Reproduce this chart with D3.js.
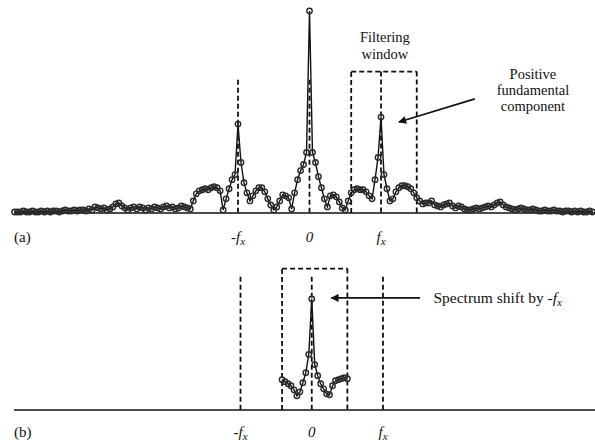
<!DOCTYPE html>
<html>
<head>
<meta charset="utf-8">
<script src="https://cdn.jsdelivr.net/npm/d3@7"></script>
<style>
  html, body { margin: 0; padding: 0; background: #fff; }
  svg { display: block; }
</style>
</head>
<body>
<svg id="chart" width="595" height="443"></svg>
<script>
// Frequency bins: the fundamental sits 24 bins from DC.
const FX = 24;

// (a) magnitude spectrum, one value per bin starting at bin -99
const startA = -99;
const spectrumA = [
  1,1,1,2,1,1,2,1,1,2,1,2,1,2,2,1,2,3,2,2,3,2,3,3,2,4,3,
  6,5,4,5,3,4,6,9,10,7,5,3,5,6,4,6,5,3,5,4,6,5,4,6,7,5,6,4,5,7,6,5,4,
  12,19,22,23,24,23,25,26,25,22,3,14,24,33,38,
  88,
  50,30,20,12,17,22,25,25,21,14,8,3,6,12,18,17,15,4,20,33,42,48,60,
  200,
  60,50,36,25,14,6,17,18,16,11,5,3,12,20,23,24,23,23,21,17,14,33,55,
  95,
  38,24,12,14,21,25,27,27,26,24,20,15,12,9,10,10,12,8,7,6,
  8,9,10,7,5,7,6,4,3,3,4,5,4,5,6,7,6,8,10,11,
  8,6,5,4,3,4,5,4,3,3,4,3,2,2,3,2,2,3,2,2,
  1,2,2,1,2,1,2,1,1,2,1
];

// (b) windowed spectrum after the shift, starting at bin -10
const startB = -10;
const spectrumB = [30,28,26,24,20,14,18,27,37,55,110,45,34,26,21,16,15,24,29,30,31,32,31];

// Filtering window, bins relative to the positive fundamental
const windowLo = -10;
const windowHi = 12;
const windowTop = 140;
const markerTop = 132;

// Marker positions and their labels
const markerBins = [-FX, 0, FX];
const markerLabels = [
  [{t: "-", i: false}, {t: "f", i: true}, {t: "x", i: true, sub: true}],
  [{t: "0", i: true}],
  [{t: "f", i: true}, {t: "x", i: true, sub: true}]
];

const SERIF = "'Liberation Serif', 'DejaVu Serif', serif";
const svg = d3.select("#chart");
const W = 595;

const xA = d3.scaleLinear().domain([-FX, FX]).range([238, 381]);
const yA = d3.scaleLinear().domain([0, 200]).range([213, 11]);
const xB = d3.scaleLinear().domain([-FX, FX]).range([240.5, 383]);
const yB = d3.scaleLinear().domain([0, 200]).range([410, 208]);

svg.append("defs").append("marker")
  .attr("id", "arrow")
  .attr("viewBox", "0 0 10 10")
  .attr("refX", 9).attr("refY", 5)
  .attr("markerWidth", 11).attr("markerHeight", 8)
  .attr("markerUnits", "userSpaceOnUse")
  .attr("orient", "auto")
  .append("path").attr("d", "M0,0 L10,5 L0,10 Z").attr("fill", "#111");

function txt(g) {
  return g.append("text").attr("font-family", SERIF).attr("fill", "#111");
}

function dashed(g, x1, y1, x2, y2) {
  g.append("line")
    .attr("x1", x1).attr("y1", y1).attr("x2", x2).attr("y2", y2)
    .attr("stroke", "#111").attr("stroke-width", 1.8)
    .attr("stroke-dasharray", "5,3");
}

function tickLabel(g, x, y, parts) {
  const t = txt(g).attr("x", x).attr("y", y)
    .attr("text-anchor", "middle").attr("font-size", 15);
  parts.forEach(p => {
    const s = t.append("tspan").text(p.t);
    if (p.i) s.attr("font-style", "italic");
    if (p.sub) s.attr("font-size", 11).attr("dy", 3);
  });
}

function panel(x, y, start, values, opts) {
  const g = svg.append("g");
  const pts = values.map((v, i) => [x(start + i), y(v)]);

  // baseline
  g.append("line")
    .attr("x1", 14).attr("x2", W)
    .attr("y1", y(0)).attr("y2", y(0))
    .attr("stroke", "#111").attr("stroke-width", 1.7);

  // marker lines at -fx, 0, fx
  markerBins.forEach(b => {
    const top = (opts.fxToWindow && b === FX) ? windowTop : markerTop;
    dashed(g, x(b), y(top), x(b), y(0));
  });

  // filtering window
  const wx0 = x(opts.windowCenter + windowLo), wx1 = x(opts.windowCenter + windowHi);
  const wy = y(windowTop);
  dashed(g, wx0, y(0), wx0, wy);
  dashed(g, wx0, wy, wx1, wy);
  dashed(g, wx1, wy, wx1, y(0));

  // spectrum trace
  g.append("path")
    .attr("d", d3.line()(pts))
    .attr("fill", "none").attr("stroke", "#111").attr("stroke-width", 1.4);
  g.selectAll("circle").data(pts).join("circle")
    .attr("cx", d => d[0]).attr("cy", d => d[1]).attr("r", 2.7)
    .attr("fill", "none").attr("stroke", "#2a2a2a").attr("stroke-width", 1.4);

  // labels
  markerBins.forEach((b, i) => tickLabel(g, x(b), y(0) + opts.labelDy, markerLabels[i]));
  txt(g).attr("x", 14).attr("y", y(0) + opts.labelDy)
    .attr("font-size", 15).text(opts.tag);
  return g;
}

const gA = panel(xA, yA, startA, spectrumA, {windowCenter: FX, fxToWindow: true, labelDy: 29, tag: "(a)"});
const gB = panel(xB, yB, startB, spectrumB, {windowCenter: 0, fxToWindow: false, labelDy: 27, tag: "(b)"});

// annotations in (a)
const capA = txt(gA).attr("text-anchor", "middle").attr("font-size", 14.5);
capA.append("tspan").attr("x", xA(FX + 1.3)).attr("y", 42).text("Filtering");
capA.append("tspan").attr("x", xA(FX + 1.3)).attr("y", 59).text("window");

const capB = txt(gA).attr("text-anchor", "middle").attr("font-size", 14.5);
["Positive", "fundamental", "component"].forEach((s, i) =>
  capB.append("tspan").attr("x", xA(FX + 51)).attr("y", 79 + i * 16).text(s));

gA.append("line")
  .attr("x1", xA(FX + 31.5)).attr("y1", yA(113))
  .attr("x2", xA(FX + 6)).attr("y2", yA(90))
  .attr("stroke", "#111").attr("stroke-width", 1.6)
  .attr("marker-end", "url(#arrow)");

// annotation in (b)
gB.append("line")
  .attr("x1", xB(36.5)).attr("y1", yB(111))
  .attr("x2", xB(6.6)).attr("y2", yB(111))
  .attr("stroke", "#111").attr("stroke-width", 1.6)
  .attr("marker-end", "url(#arrow)");
const capC = txt(gB).attr("x", xB(41)).attr("y", yB(111) + 5).attr("font-size", 15.5);
capC.append("tspan").text("Spectrum shift by ");
capC.append("tspan").attr("font-style", "italic").text("-f");
capC.append("tspan").attr("font-style", "italic").attr("font-size", 11).attr("dy", 3).text("x");
</script>
</body>
</html>
